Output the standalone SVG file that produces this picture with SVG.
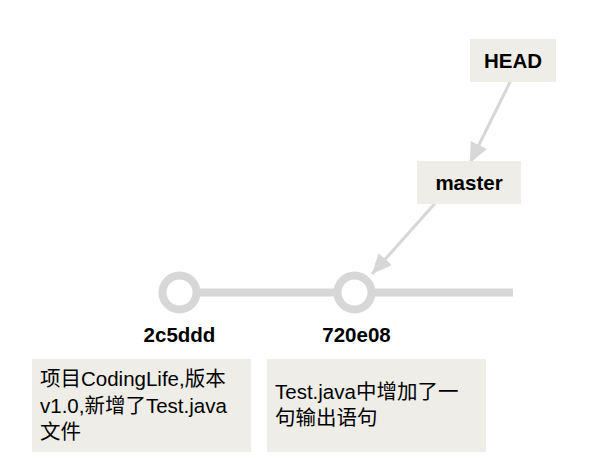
<svg xmlns="http://www.w3.org/2000/svg" width="603" height="472" viewBox="0 0 603 472">
<style>
.box{fill:#eeede7;}
.lbl{font-family:"Liberation Sans",Arial,sans-serif;font-weight:bold;font-size:20.5px;fill:#000;text-anchor:middle;}
.txt{font-family:"Liberation Sans","Noto Sans CJK SC",sans-serif;font-size:20.5px;fill:#000;}
.commit{fill:#fff;stroke:#d7d7d7;stroke-width:8;}
.edge{stroke:#d7d7d7;stroke-width:3;fill:none;marker-end:url(#ah);}
</style>
<defs>
<marker id="ah" markerUnits="userSpaceOnUse" markerWidth="22" markerHeight="20" refX="20" refY="9" orient="auto">
<path d="M0,0 L20,9 L0,18 Z" fill="#d7d7d7"/>
</marker>
</defs>
<rect width="603" height="472" fill="#fff"/>
<g id="branch-line">
<line x1="180" y1="292.5" x2="513" y2="292.5" stroke="#d7d7d7" stroke-width="8"/>
</g>
<g id="connectors">
<line class="edge" x1="512" y1="78" x2="470" y2="163"/>
<line class="edge" x1="438" y1="200" x2="372" y2="274"/>
</g>
<g id="commit-2c5ddd">
<circle class="commit" cx="179.5" cy="292.5" r="17"/>
<text class="lbl" x="179.5" y="342">2c5ddd</text>
</g>
<g id="commit-720e08">
<circle class="commit" cx="354.5" cy="292.5" r="17"/>
<text class="lbl" x="356.5" y="342">720e08</text>
</g>
<g id="head">
<rect class="box" x="470" y="39" width="86" height="43"/>
<text class="lbl" x="513" y="67.5">HEAD</text>
</g>
<g id="master">
<rect class="box" x="417" y="161" width="104" height="43"/>
<text class="lbl" x="469" y="190">master</text>
</g>
<g id="note-2c5ddd">
<rect class="box" x="32" y="359" width="219" height="93"/>
<text class="txt" x="40" y="386">项目CodingLife,版本</text>
<text class="txt" x="40" y="412.5">v1.0,新增了Test.java</text>
<text class="txt" x="40" y="439">文件</text>
</g>
<g id="note-720e08">
<rect class="box" x="267" y="359" width="219" height="93"/>
<text class="txt" x="275" y="399">Test.java中增加了一</text>
<text class="txt" x="275" y="424.5">句输出语句</text>
</g>
</svg>
